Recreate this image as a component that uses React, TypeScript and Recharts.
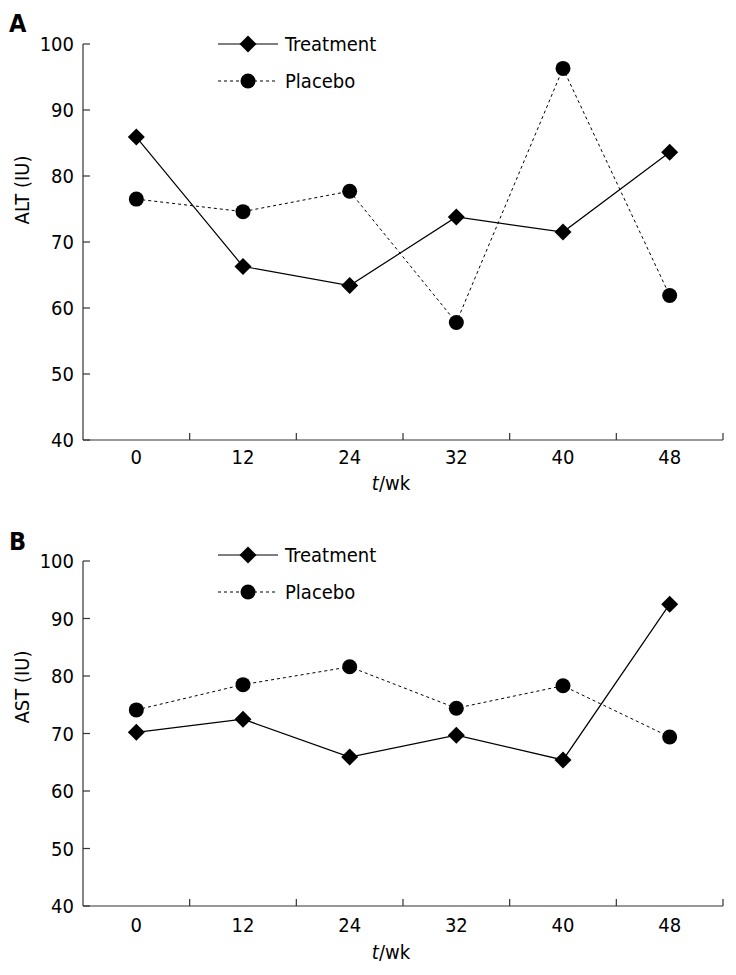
import React from "react";
import { LineChart, Line, XAxis, YAxis } from "recharts";

const WEEKS = ["0", "12", "24", "32", "40", "48"];
const ALT_TREATMENT = [85.9, 66.3, 63.4, 73.8, 71.5, 83.6];
const ALT_PLACEBO = [76.5, 74.6, 77.7, 57.8, 96.3, 61.9];
const AST_TREATMENT = [70.2, 72.5, 65.9, 69.7, 65.4, 92.5];
const AST_PLACEBO = [74.1, 78.5, 81.6, 74.4, 78.3, 69.4];
const Y_TICKS = [40, 50, 60, 70, 80, 90, 100];

const FONT = '"DejaVu Sans Condensed", "DejaVu Sans", sans-serif';
const W = 736;
const LEFT = 83;
const RIGHT = 13;
const Y_GAP = 9;
const TICK_LEN = 7;
const BAND = (W - LEFT - RIGHT) / WEEKS.length;

const Diamond = ({ cx, cy, r = 8.5 }: any) => {
  if (cx == null || cy == null) return null;
  return (
    <polygon
      points={`${cx},${cy - r} ${cx + r},${cy} ${cx},${cy + r} ${cx - r},${cy}`}
      fill="#000"
    />
  );
};

const Dot = ({ cx, cy, r = 7.5 }: any) => {
  if (cx == null || cy == null) return null;
  return <circle cx={cx} cy={cy} r={r} fill="#000" />;
};

// y tick: label on the left, short mark pointing into the plot
const YTick = ({ x, y, payload }: any) => (
  <g>
    <line x1={x + Y_GAP} x2={x + Y_GAP + TICK_LEN} y1={y} y2={y} stroke="#333" strokeWidth={1.2} />
    <text x={x} y={y} dy="0.355em" textAnchor="end" style={{ fontSize: 20, fontFamily: FONT }} fill="#000">
      {payload.value}
    </text>
  </g>
);

// x tick: label centred in the band, mark at the band's right edge pointing up
const makeXTick = (gap: number) => ({ x, y, payload }: any) => {
  const axisY = y - gap;
  const edge = x + BAND / 2;
  return (
    <g>
      <line x1={edge} x2={edge} y1={axisY} y2={axisY - TICK_LEN} stroke="#333" strokeWidth={1.2} />
      <text x={x} y={y} dy="0.71em" textAnchor="middle" style={{ fontSize: 20, fontFamily: FONT }} fill="#000">
        {payload.value}
      </text>
    </g>
  );
};

type PanelProps = {
  letter: string;
  yLabel: string;
  treatment: number[];
  placebo: number[];
  top: number;
  height: number;
  plotTop: number;
  axisHeight: number;
  yLabelY: number;
  letterY: number;
  legendY: number;
  tickGap: number;
  titleDy: number;
};

const Panel: React.FC<PanelProps> = (p) => {
  const data = WEEKS.map((w, i) => ({
    week: w,
    treatment: p.treatment[i],
    placebo: p.placebo[i],
  }));

  return (
    <div style={{ position: "absolute", left: 0, top: p.top, width: W, height: p.height }}>
      <LineChart
        width={W}
        height={p.height}
        data={data}
        margin={{ top: p.plotTop, right: RIGHT, left: 0, bottom: 0 }}
        style={{ fontFamily: FONT }}
      >
        <XAxis
          dataKey="week"
          type="category"
          scale="band"
          interval={0}
          height={p.axisHeight}
          tickLine={false}
          tickSize={0}
          tickMargin={p.tickGap}
          axisLine={{ stroke: "#333", strokeWidth: 1.2 }}
          tick={makeXTick(p.tickGap)}
          label={{
            content: ({ viewBox }: any) => (
              <text
                x={viewBox.x + viewBox.width / 2 - 12}
                y={viewBox.y + p.titleDy}
                textAnchor="middle"
                style={{ fontSize: 20, fontFamily: FONT }}
                fill="#000"
              >
                <tspan fontStyle="italic">t</tspan>/wk
              </text>
            ),
          }}
        />
        <YAxis
          domain={[40, 100]}
          ticks={Y_TICKS}
          interval={0}
          width={LEFT}
          tickLine={false}
          tickSize={0}
          tickMargin={Y_GAP}
          axisLine={{ stroke: "#333", strokeWidth: 1.2 }}
          tick={YTick}
          label={{
            content: () => (
              <text
                x={22}
                y={p.yLabelY}
                transform={`rotate(-90 22 ${p.yLabelY})`}
                textAnchor="middle"
                dominantBaseline="central"
                style={{ fontSize: 20, fontFamily: FONT }}
                fill="#000"
              >
                {p.yLabel}
              </text>
            ),
          }}
        />
        <Line
          dataKey="treatment"
          name="Treatment"
          stroke="#000"
          strokeWidth={1.2}
          dot={(d: any) => <Diamond key={`t${d.index}`} cx={d.cx} cy={d.cy} />}
          activeDot={false}
          isAnimationActive={false}
        />
        <Line
          dataKey="placebo"
          name="Placebo"
          stroke="#000"
          strokeWidth={1}
          strokeDasharray="3 3"
          dot={(d: any) => <Dot key={`p${d.index}`} cx={d.cx} cy={d.cy} />}
          activeDot={false}
          isAnimationActive={false}
        />
      </LineChart>

      <svg
        width={W}
        height={p.height}
        style={{ position: "absolute", left: 0, top: 0, pointerEvents: "none" }}
      >
        <text x={9} y={p.letterY} fontSize={25} fontWeight="bold" fontFamily={FONT} fill="#000">
          {p.letter}
        </text>
        <g fontFamily={FONT} fontSize={20} fill="#000">
          <line x1={218} x2={278} y1={p.legendY} y2={p.legendY} stroke="#000" strokeWidth={1.2} />
          <Diamond cx={248} cy={p.legendY} />
          <text x={285} y={p.legendY} dominantBaseline="central">Treatment</text>
          <line
            x1={218}
            x2={278}
            y1={p.legendY + 37}
            y2={p.legendY + 37}
            stroke="#000"
            strokeWidth={1}
            strokeDasharray="3 3"
          />
          <Dot cx={248} cy={p.legendY + 37} />
          <text x={285} y={p.legendY + 37} dominantBaseline="central">Placebo</text>
        </g>
      </svg>
    </div>
  );
};

export default function App() {
  return (
    <div style={{ position: "absolute", left: 0, top: 0, width: W, height: 975, background: "#fff" }}>
      <Panel
        letter="A"
        yLabel="ALT (IU)"
        treatment={ALT_TREATMENT}
        placebo={ALT_PLACEBO}
        top={0}
        height={500}
        plotTop={44}
        axisHeight={60}
        yLabelY={190}
        letterY={32}
        legendY={44}
        tickGap={10}
        titleDy={50}
      />
      <Panel
        letter="B"
        yLabel="AST (IU)"
        treatment={AST_TREATMENT}
        placebo={AST_PLACEBO}
        top={500}
        height={475}
        plotTop={61}
        axisHeight={69}
        yLabelY={187}
        letterY={50}
        legendY={55}
        tickGap={12}
        titleDy={53}
      />
    </div>
  );
}
